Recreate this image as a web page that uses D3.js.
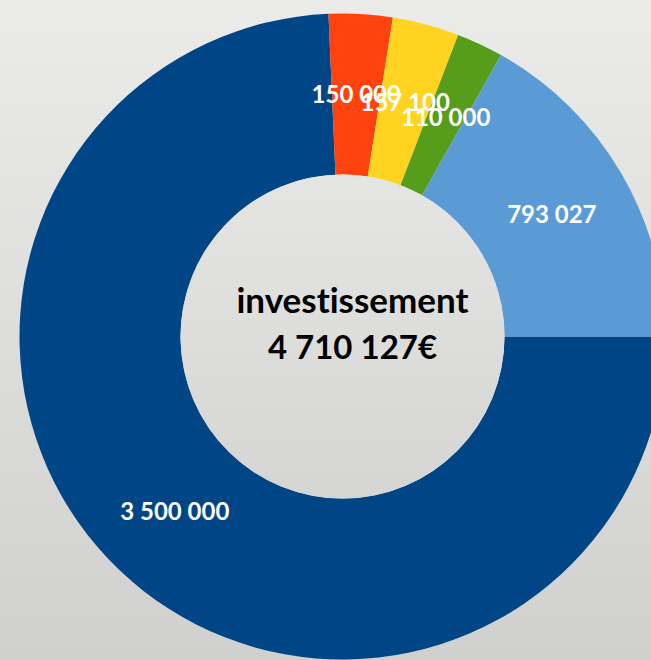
<!DOCTYPE html>
<html>
<head>
<meta charset="utf-8">
<script src="https://cdn.jsdelivr.net/npm/d3@7"></script>
<style>
html,body{margin:0;padding:0;overflow:hidden;}
svg{display:block;}
text{font-variant-ligatures:none;font-feature-settings:"liga" 0,"clig" 0;}
</style>
</head>
<body>
<script>
// Data
const categories = ["A", "B", "C", "D", "E"];
const values = [3500000, 150000, 157100, 110000, 793027];
const valueLabels = ["3 500 000", "150 000", "157 100", "110 000", "793 027"];
const sliceColors = ["#004586", "#ff420e", "#ffd320", "#579d1c", "#5b9bd5"];
const centerTitle = "investissement";
const centerValue = "4 710 127€";

const W = 651, H = 660;
const cx = 342.5, cy = 336.5, rOuter = 323, rInner = 162;

const svg = d3.select("body").append("svg").attr("width", W).attr("height", H);
const defs = svg.append("defs");
const bg = defs.append("linearGradient").attr("id", "bg").attr("x1", 0).attr("y1", 0).attr("x2", 0).attr("y2", 1);
bg.append("stop").attr("offset", "0%").attr("stop-color", "#ebebea");
bg.append("stop").attr("offset", "100%").attr("stop-color", "#d0d0cf");
const ig = defs.append("linearGradient").attr("id", "ig").attr("x1", 0).attr("y1", 0).attr("x2", 0).attr("y2", 1);
ig.append("stop").attr("offset", "0%").attr("stop-color", "#e5e5e3");
ig.append("stop").attr("offset", "100%").attr("stop-color", "#d5d5d4");

svg.append("rect").attr("width", W).attr("height", H).attr("fill", "url(#bg)");

const data = categories.map((c, i) => ({cat: c, value: values[i], label: valueLabels[i], color: sliceColors[i]}));
const pie = d3.pie().value(d => d.value).sort(null).startAngle(Math.PI / 2).endAngle(Math.PI / 2 + 2 * Math.PI);
const arcs = pie(data);
const arc = d3.arc().innerRadius(rInner).outerRadius(rOuter);

const g = svg.append("g").attr("transform", `translate(${cx},${cy})`);
g.selectAll("path.slice").data(arcs).join("path")
  .attr("class", "slice")
  .attr("d", arc)
  .attr("fill", d => d.data.color);

g.append("circle").attr("r", rInner).attr("fill", "url(#ig)");

g.selectAll("text.lbl").data(arcs).join("text")
  .attr("class", "lbl")
  .attr("transform", d => `translate(${arc.centroid(d)})`)
  .attr("text-anchor", "middle")
  .attr("dy", "0.36em")
  .attr("fill", "#ffffff")
  .attr("font-family", "Lato, sans-serif")
  .attr("font-weight", 700)
  .attr("font-size", 24)
  .text(d => d.data.label);

g.append("text").attr("x", 10).attr("y", -24).attr("text-anchor", "middle")
  .attr("font-family", "Lato, sans-serif").attr("font-weight", 700).attr("font-size", 35)
  .attr("fill", "#000").text(centerTitle);
g.append("text").attr("x", 10).attr("y", 22).attr("text-anchor", "middle")
  .attr("font-family", "Lato, sans-serif").attr("font-weight", 700).attr("font-size", 33)
  .attr("fill", "#000").text(centerValue);
</script>
</body>
</html>
